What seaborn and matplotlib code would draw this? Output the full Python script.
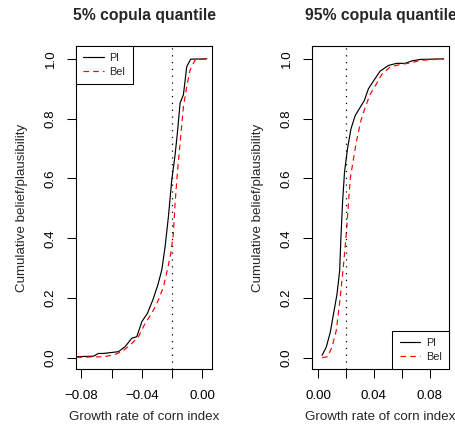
import numpy as np
import pandas as pd
import matplotlib
matplotlib.use("Agg")
import matplotlib.pyplot as plt
import seaborn as sns

# ---- data ----
left_pl_x = [-0.0833, -0.0719, -0.0687, -0.0653, -0.0554, -0.0510, -0.0466, -0.0433,
             -0.0400, -0.0363, -0.0327, -0.0294, -0.0268, -0.0246, -0.0224, -0.0202,
             -0.0180, -0.0165, -0.0147, -0.0125, -0.0103, -0.0077, 0.0030]
left_pl_y = [0.004, 0.006, 0.015, 0.015, 0.021, 0.038, 0.066, 0.071,
             0.121, 0.149, 0.194, 0.244, 0.294, 0.372, 0.473, 0.595,
             0.679, 0.751, 0.852, 0.880, 0.974, 0.999, 1.000]
left_bel_x = [-0.0833, -0.0653, -0.0587, -0.0532, -0.0477, -0.0422, -0.0378, -0.0334,
              -0.0290, -0.0257, -0.0231, -0.0208, -0.0191, -0.0180, -0.0165, -0.0147,
              -0.0125, -0.0103, -0.0081, -0.0048, 0.0030]
left_bel_y = [0.002, 0.004, 0.010, 0.021, 0.043, 0.071, 0.116, 0.149,
              0.194, 0.238, 0.294, 0.350, 0.417, 0.517, 0.618, 0.718,
              0.840, 0.907, 0.963, 0.996, 1.000]

right_pl_x = [0.0029, 0.0059, 0.0088, 0.0111, 0.0136, 0.0155, 0.0164, 0.0176, 0.0190,
              0.0211, 0.0236, 0.0266, 0.0302, 0.0331, 0.0361, 0.0397, 0.0445, 0.0504,
              0.0564, 0.0624, 0.0671, 0.0731, 0.0900]
right_pl_y = [0.009, 0.036, 0.086, 0.147, 0.213, 0.291, 0.401, 0.523, 0.622,
              0.699, 0.766, 0.810, 0.838, 0.860, 0.900, 0.926, 0.959, 0.978,
              0.985, 0.985, 0.993, 0.998, 1.000]
right_bel_x = [0.0029, 0.0069, 0.0100, 0.0131, 0.0159, 0.0183, 0.0202, 0.0219, 0.0231,
               0.0254, 0.0279, 0.0307, 0.0338, 0.0374, 0.0409, 0.0457, 0.0516, 0.0588,
               0.0659, 0.0731, 0.0802, 0.0900]
right_bel_y = [0.001, 0.004, 0.036, 0.092, 0.202, 0.313, 0.412, 0.523, 0.600,
               0.666, 0.733, 0.793, 0.838, 0.882, 0.909, 0.948, 0.973, 0.981,
               0.986, 0.995, 0.997, 1.000]

titles = ["5% copula quantile", "95% copula quantile"]
ref_lines = [-0.02, 0.02]
left_xticks = [-0.08, -0.06, -0.04, -0.02, 0.00]
left_xticklabels = ["\u22120.08", "", "\u22120.04", "", "0.00"]
right_xticks = [0.00, 0.02, 0.04, 0.06, 0.08]
right_xticklabels = ["0.00", "", "0.04", "", "0.08"]
yticks = [0.0, 0.2, 0.4, 0.6, 0.8, 1.0]
yticklabels = ["0.0", "0.2", "0.4", "0.6", "0.8", "1.0"]
xlabel = "Growth rate of corn index"
ylabel = "Cumulative belief/plausibility"
legend_labels = ["Pl", "Bel"]

# ---- style ----
sns.set_theme(style="ticks")
plt.rcParams["font.family"] = ["Liberation Sans", "DejaVu Sans"]
plt.rcParams["lines.scale_dashes"] = False

fig = plt.figure(figsize=(4.56, 4.36), dpi=100)
W, H = 456, 436
def axes_rect(l, r, t, b):
    return [l / W, 1 - b / H, (r - l) / W, (b - t) / H]

ax1 = fig.add_axes(axes_rect(76, 212.3, 46, 369))
ax2 = fig.add_axes(axes_rect(312, 449, 46, 369))

panels = [
    (ax1, left_pl_x, left_pl_y, left_bel_x, left_bel_y, (-0.0835, 0.0066),
     left_xticks, left_xticklabels, "upper left"),
    (ax2, right_pl_x, right_pl_y, right_bel_x, right_bel_y, (-0.0043, 0.0938),
     right_xticks, right_xticklabels, "lower right"),
]

for i, (ax, px, py, bx, by, xlim, xt, xtl, loc) in enumerate(panels):
    dpl = pd.DataFrame({"x": px, "y": py})
    dbel = pd.DataFrame({"x": bx, "y": by})
    sns.lineplot(data=dpl, x="x", y="y", ax=ax, color="black", lw=0.85,
                 estimator=None, sort=False, label=legend_labels[0])
    sns.lineplot(data=dbel, x="x", y="y", ax=ax, color="#ff0000", lw=0.85,
                 estimator=None, sort=False, label=legend_labels[1],
                 linestyle=(0, (4.0, 3.0)))
    ax.axvline(ref_lines[i], color="black", lw=0.9, linestyle=(0, (0.9, 4.0)))
    ax.set_xlim(*xlim)
    ax.set_ylim(-0.037, 1.043)
    ax.set_xticks(xt)
    ax.set_xticklabels(xtl)
    ax.set_yticks(yticks)
    ax.set_yticklabels(yticklabels, rotation=90, va="center")
    ax.tick_params(direction="out", length=6.2, width=0.75, color="black",
                   labelsize=9.6, labelcolor="black")
    ax.tick_params(axis="x", pad=8.8)
    ax.tick_params(axis="y", pad=7.5)
    for s in ax.spines.values():
        s.set_visible(True)
        s.set_color("black")
        s.set_linewidth(0.8)
    ax.set_title(titles[i], fontsize=11.3, fontweight="bold", pad=19)
    ax.set_xlabel(xlabel, fontsize=9.6)
    ax.set_ylabel(ylabel, fontsize=9.6)
    ax.xaxis.label.set_va("center")
    ax.yaxis.label.set_va("center")
    ax.xaxis.set_label_coords(0.5, -48 / 323)
    ax.yaxis.set_label_coords(-54 / 136.5, 0.5)
    leg = ax.legend(loc=loc, borderaxespad=0, fontsize=7.8, frameon=True,
                    fancybox=False, framealpha=1, edgecolor="black",
                    handlelength=1.9, handletextpad=0.55, labelspacing=0.35,
                    borderpad=0.65)
    leg.get_frame().set_linewidth(0.75)

fig.savefig("out.png", dpi=100)
